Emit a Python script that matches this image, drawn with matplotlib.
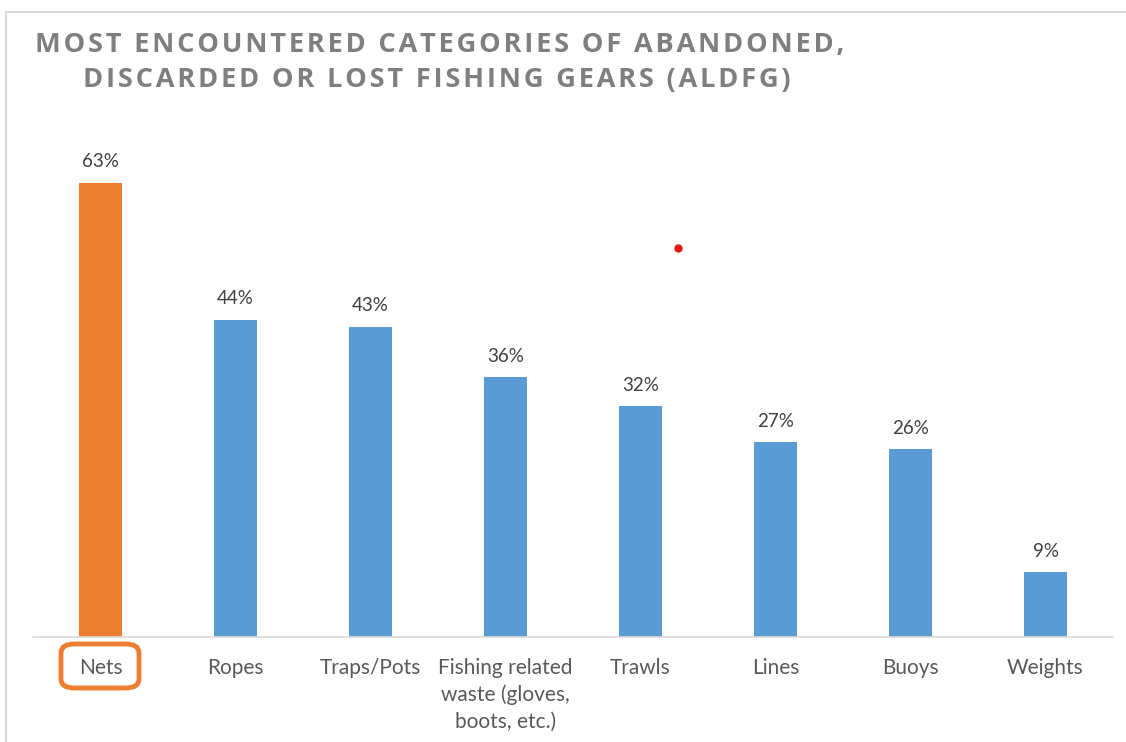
import matplotlib.pyplot as plt
from matplotlib.patches import FancyBboxPatch, Rectangle
from matplotlib.lines import Line2D

categories = ['Nets', 'Ropes', 'Traps/Pots', 'Fishing related\nwaste (gloves,\nboots, etc.)',
              'Trawls', 'Lines', 'Buoys', 'Weights']
values = [63, 44, 43, 36, 32, 27, 26, 9]
value_labels = ['63%', '44%', '43%', '36%', '32%', '27%', '26%', '9%']
title_lines = ['MOST ENCOUNTERED CATEGORIES OF ABANDONED,',
               'DISCARDED OR LOST FISHING GEARS (ALDFG)']

ORANGE = '#ED7D31'
BLUE = '#5B9BD5'
W, H = 1126, 742


def spaced(s):
    "Add a bit of letter spacing using hair spaces"
    return '\u200a'.join(s)


fig = plt.figure(figsize=(W / 100, H / 100), dpi=100)
fig.patch.set_facecolor('white')

# light frame around the chart area (only top and left visible)
fig.patches.append(Rectangle((6 / W, -0.1), 1.2, 1 - 12 / H + 0.1, transform=fig.transFigure,
                             fill=False, edgecolor='#d9d9d9', linewidth=1.5))

ax = fig.add_axes([33 / W, (H - 637) / H, 1080 / W, 505 / H])
colors = [ORANGE] + [BLUE] * (len(values) - 1)
x = range(len(categories))
bars = ax.bar(x, values, width=0.32, color=colors, zorder=2)
ax.set_xlim(-0.5, len(categories) - 0.5)
ax.set_ylim(0, 70)

for b, lab in zip(bars, value_labels):
    ax.annotate(lab, (b.get_x() + b.get_width() / 2, b.get_height()), xytext=(0, 9),
                textcoords='offset points', ha='center', va='bottom',
                fontsize=13.5, color='#404040', family=['Lato', 'DejaVu Sans'])

ax.set_xticks(list(x))
ax.set_xticklabels(categories, fontsize=15, color='#595959', family=['Lato', 'DejaVu Sans'],
                   linespacing=1.42, va='top')
ax.tick_params(axis='x', length=0, pad=15)
ax.set_yticks([])
for side in ['top', 'right', 'left']:
    ax.spines[side].set_visible(False)
ax.spines['bottom'].set_color('#d9d9d9')
ax.spines['bottom'].set_linewidth(1.2)

# orange rounded box around the "Nets" label
fig.patches.append(FancyBboxPatch((61 / W, (H - 688) / H), 78 / W, 44 / H,
                                  boxstyle='round,pad=0,rounding_size=0.012',
                                  transform=fig.transFigure, fill=False,
                                  edgecolor=ORANGE, linewidth=3.5))

# title
fig.text(35 / W, 1 - 45 / H, spaced(title_lines[0]), ha='left', va='center', fontsize=19.6,
         fontweight='bold', color='#7f7f7f', family=['Open Sans', 'DejaVu Sans'])
fig.text(83 / W, 1 - 80 / H, spaced(title_lines[1]), ha='left', va='center', fontsize=19.6,
         fontweight='bold', color='#7f7f7f', family=['Open Sans', 'DejaVu Sans'])

# stray red dot present in the original
fig.lines.append(Line2D([678 / W], [1 - 248 / H], transform=fig.transFigure, marker='o',
                        markersize=5, color='#e81818', linestyle='none'))

fig.savefig('out.png', dpi=100)
